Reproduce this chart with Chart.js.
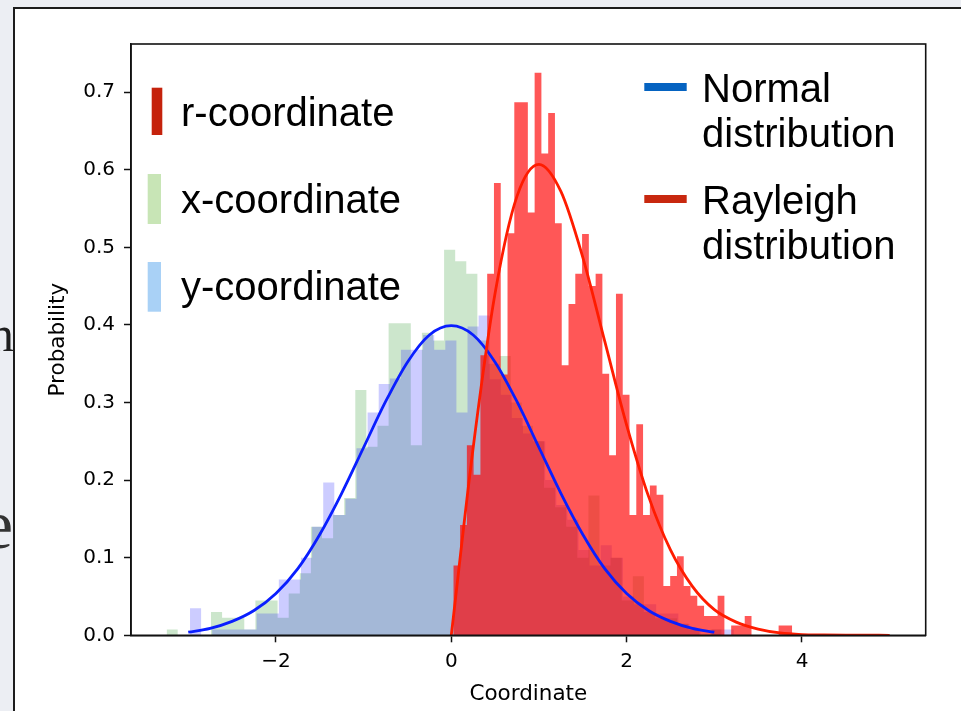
<!DOCTYPE html>
<html>
<head>
<meta charset="utf-8">
<script src="https://cdn.jsdelivr.net/npm/chart.js@4.4.1/dist/chart.umd.min.js"></script>
<style>
  html, body { margin: 0; padding: 0; }
  body { width: 961px; height: 711px; overflow: hidden; position: relative; background: #eceef3; }
  #sheet { position: absolute; left: 13px; top: 7px; width: 980px; height: 740px; background: #ffffff;
           border-left: 2px solid #1c1c1c; border-top: 2px solid #1c1c1c; }
  .frag { position: absolute; font-family: "Liberation Serif", "DejaVu Serif", serif; color: #1e1e1e; line-height: 1; }
  #c { position: absolute; left: 0; top: 0; }
</style>
</head>
<body>
<div id="sheet"></div>
<div class="frag" style="left:-11px; top:309px; font-size:50px;">n</div>
<div class="frag" style="left:-18px; top:490px; font-size:70px; color:#333; filter:blur(0.6px);">e</div>
<canvas id="c" width="961" height="711"></canvas>
<script>
// Histogram of the x-coordinate samples (density per bin)
const xCoordStart = -3.247;
const xCoordWidth = 0.1266;
const xCoordDensity = [
  0.0075, 0, 0, 0, 0.030, 0.0225, 0.0225, 0.0075, 0.045, 0.045,
  0.0225, 0.054, 0.080, 0.140, 0.125, 0.155, 0.177, 0.316, 0.243, 0.270,
  0.402, 0.402, 0.245, 0.390, 0.380, 0.497, 0.482, 0.466, 0.380, 0.350,
  0.360, 0.300, 0.270, 0.250, 0.190, 0.165, 0.140, 0.100, 0.180, 0.090,
  0.100, 0.045, 0.076, 0.030, 0.022, 0.022, 0.015, 0.0075, 0, 0.0075
];

// Histogram of the y-coordinate samples
const yCoordStart = -2.98;
const yCoordWidth = 0.1266;
const yCoordDensity = [
  0.035, 0, 0.0075, 0.0075, 0.0075, 0.0075, 0.028, 0.028, 0.072, 0.072,
  0.100, 0.140, 0.197, 0.155, 0.176, 0.241, 0.287, 0.324, 0.331, 0.368,
  0.368, 0.387, 0.368, 0.380, 0.287, 0.398, 0.412, 0.330, 0.310, 0.280,
  0.260, 0.250, 0.200, 0.168, 0.149, 0.110, 0.090, 0.116, 0.100, 0.050,
  0.040, 0.040, 0.028, 0.028, 0.015, 0.0075, 0, 0.0075, 0.0075
];

// Histogram of the radial coordinate r
const rCoordStart = 0.023;
const rCoordWidth = 0.0773;
const rCoordDensity = [
  0.090, 0.142, 0.245, 0.207, 0.361, 0.466, 0.583, 0.336, 0.518, 0.687,
  0.687, 0.545, 0.725, 0.621, 0.673, 0.531, 0.348, 0.427, 0.466, 0.517,
  0.450, 0.466, 0.337, 0.232, 0.440, 0.310, 0.155, 0.272, 0.155, 0.193,
  0.181, 0.0635, 0.0765, 0.102, 0.0635, 0.051, 0.038, 0.025, 0.025, 0.051,
  0, 0.0125, 0.0125, 0.025, 0, 0, 0, 0, 0.0125, 0.0125
];

// Reference curves
const normalX = [-3, -2.75, -2.5, -2.25, -2, -1.75, -1.5, -1.25, -1, -0.75, -0.5, -0.25, 0,
                 0.25, 0.5, 0.75, 1, 1.25, 1.5, 1.75, 2, 2.25, 2.5, 2.75, 3];
const normalPdf = [0.004, 0.009, 0.018, 0.032, 0.054, 0.086, 0.130, 0.183, 0.242, 0.301, 0.352, 0.387, 0.399,
                   0.387, 0.352, 0.301, 0.242, 0.183, 0.130, 0.086, 0.054, 0.032, 0.018, 0.009, 0.004];
const rayleighX = [0, 0.25, 0.5, 0.75, 1, 1.25, 1.5, 1.75, 2, 2.25, 2.5, 2.75, 3,
                   3.25, 3.5, 3.75, 4, 4.25, 4.5, 4.75, 5];
const rayleighPdf = [0, 0.242, 0.441, 0.566, 0.607, 0.572, 0.487, 0.379, 0.271, 0.179, 0.110, 0.063, 0.033,
                     0.017, 0.008, 0.003, 0.001, 0.0005, 0.0002, 0.0001, 0];

// Axis ticks
const xTicks = [-2, 0, 2, 4];
const xTickLabels = ['\u22122', '0', '2', '4'];
const yTicks = [0, 0.1, 0.2, 0.3, 0.4, 0.5, 0.6, 0.7];
const yTickLabels = ['0.0', '0.1', '0.2', '0.3', '0.4', '0.5', '0.6', '0.7'];

// Legend entries
const barKeys = ['r-coordinate', 'x-coordinate', 'y-coordinate'];
const lineKeys = [['Normal', 'distribution'], ['Rayleigh', 'distribution']];

// Outline of a histogram as a step path: bin edges with the bin's density
function histogramOutline(start, width, density) {
  const pts = [{ x: start, y: 0 }];
  density.forEach((d, i) => pts.push({ x: start + i * width, y: d }));
  pts.push({ x: start + density.length * width, y: 0 });
  return pts;
}
function curvePoints(xs, ys) {
  return xs.map((x, i) => ({ x: x, y: ys[i] }));
}

const histStyle = { stepped: 'before', fill: 'origin', pointRadius: 0, borderWidth: 0,
                    borderColor: 'rgba(0,0,0,0)' };
const curveStyle = { cubicInterpolationMode: 'monotone', pointRadius: 0, borderWidth: 2.8, fill: false };

// Frame around the plotting area
const framePlugin = {
  id: 'frame',
  afterDatasetsDraw(chart) {
    const { ctx, chartArea: a } = chart;
    ctx.save();
    ctx.strokeStyle = '#111';
    ctx.lineWidth = 1.6;
    ctx.strokeRect(a.left, a.top, a.right - a.left, a.bottom - a.top);
    ctx.restore();
  }
};

// Legends written inside the axes
const keyPlugin = {
  id: 'keys',
  afterDraw(chart) {
    const { ctx, chartArea: a } = chart;
    const patchColors = ['#c5220c', '#c8e5b6', '#a9d1f6'];
    const patchBoxes = [[20.7, 43.7, 10.6, 47.3], [16.7, 130, 13.3, 50], [16.7, 218, 13.3, 49.7]];
    ctx.save();
    ctx.font = '40px "Liberation Sans", Arial, sans-serif';
    ctx.fillStyle = '#000';
    ctx.textBaseline = 'alphabetic';
    barKeys.forEach((label, i) => {
      const b = patchBoxes[i];
      ctx.fillStyle = patchColors[i];
      ctx.fillRect(a.left + b[0], a.top + b[1], b[2], b[3]);
      ctx.fillStyle = '#000';
      ctx.fillText(label, a.left + 50, a.top + 82 + i * 87);
    });
    const lineColors = ['#0563c1', '#c8280f'];
    lineKeys.forEach((lines, i) => {
      const cy = a.top + 43 + i * 112;
      ctx.fillStyle = lineColors[i];
      ctx.fillRect(644.3, cy - 4, 42.4, 8);
      ctx.fillStyle = '#000';
      lines.forEach((t, j) => ctx.fillText(t, 702, cy + 14.7 + j * 45));
    });
    ctx.restore();
  }
};

Chart.defaults.font.family = '"DejaVu Sans", sans-serif';
Chart.defaults.color = '#000';

new Chart(document.getElementById('c'), {
  type: 'line',
  data: {
    datasets: [
      Object.assign({ label: 'Rayleigh distribution', data: curvePoints(rayleighX, rayleighPdf),
                      borderColor: 'rgb(255,28,0)', order: 0 }, curveStyle),
      Object.assign({ label: 'Normal distribution', data: curvePoints(normalX, normalPdf),
                      borderColor: 'rgb(10,30,255)', order: 1 }, curveStyle),
      Object.assign({ label: 'r-coordinate', data: histogramOutline(rCoordStart, rCoordWidth, rCoordDensity),
                      backgroundColor: 'rgba(255,0,0,0.66)', order: 2 }, histStyle),
      Object.assign({ label: 'y-coordinate', data: histogramOutline(yCoordStart, yCoordWidth, yCoordDensity),
                      backgroundColor: 'rgba(0,0,255,0.2)', order: 3 }, histStyle),
      Object.assign({ label: 'x-coordinate', data: histogramOutline(xCoordStart, xCoordWidth, xCoordDensity),
                      backgroundColor: 'rgba(0,128,0,0.2)', order: 4 }, histStyle)
    ]
  },
  options: {
    responsive: false,
    animation: false,
    devicePixelRatio: 1,
    layout: { padding: { top: 44, right: 35.3, bottom: 0, left: 0 } },
    plugins: { legend: { display: false }, tooltip: { enabled: false } },
    scales: {
      x: {
        type: 'linear',
        min: -3.653,
        max: 5.411,
        afterFit(s) { s.height = 75.7; },
        afterBuildTicks(s) { s.ticks = xTicks.map(v => ({ value: v })); },
        ticks: { font: { size: 20 }, color: '#000', padding: 7.5, maxRotation: 0, autoSkip: false,
                 callback: (v, i) => xTickLabels[i] },
        grid: { drawOnChartArea: false, drawTicks: true, tickLength: 7, tickWidth: 1.5, tickColor: '#111' },
        border: { display: true, width: 1.5, color: '#111' },
        title: { display: true, text: 'Coordinate', font: { size: 21.5 }, color: '#000',
                 padding: { top: 0, bottom: 4 } }
      },
      y: {
        type: 'linear',
        min: 0,
        max: 0.762,
        afterFit(s) { s.width = 131; },
        afterBuildTicks(s) { s.ticks = yTicks.map(v => ({ value: v })); },
        ticks: { font: { size: 20 }, color: '#000', padding: 9, autoSkip: false,
                 callback: (v, i) => yTickLabels[i] },
        grid: { drawOnChartArea: false, drawTicks: true, tickLength: 7, tickWidth: 1.5, tickColor: '#111' },
        border: { display: true, width: 1.5, color: '#111' },
        title: { display: true, text: 'Probability', font: { size: 21.5 }, color: '#000',
                 padding: { top: 46, bottom: 0 } }
      }
    }
  },
  plugins: [framePlugin, keyPlugin]
});
</script>
</body>
</html>
